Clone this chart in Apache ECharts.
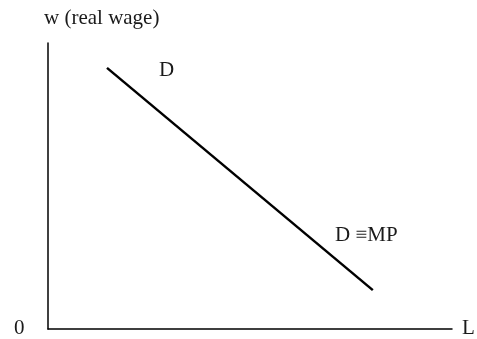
<!DOCTYPE html>
<html><head><meta charset="utf-8">
<script src="https://cdn.jsdelivr.net/npm/echarts@6/dist/echarts.min.js"></script>
<style>html,body{margin:0;padding:0;background:#fff}#c{width:477px;height:339px}</style>
</head><body><div id="c"></div>
<script>
const demandL = [14.6, 80.4];
const demandW = [91.3, 13.6];
const axisNames = { y: 'w (real wage)', x: 'L', origin: '0' };
const curveLabels = ['D', 'D \u2261MP'];

const chart = echarts.init(document.getElementById('c'));
const F = '21px "Liberation Serif"';
const txt = (text, x, y) => ({ type: 'text', x: x, y: y, style: { text: text, fill: '#1a1a1a', font: F, align: 'left', verticalAlign: 'top' } });
chart.setOption({
  animation: false,
  grid: { left: 48, top: 43, right: 25, bottom: 10 },
  xAxis: { type: 'value', min: 0, max: 100, axisLine: { lineStyle: { color: '#000', width: 1.5 } },
    axisTick: { show: false }, axisLabel: { show: false }, splitLine: { show: false } },
  yAxis: { type: 'value', min: 0, max: 100, axisLine: { show: true, lineStyle: { color: '#000', width: 1.5 } },
    axisTick: { show: false }, axisLabel: { show: false }, splitLine: { show: false } },
  graphic: [
    txt(axisNames.y, 44, 8),
    txt(axisNames.origin, 14, 318),
    txt(axisNames.x, 462, 318),
    txt(curveLabels[0], 159, 60),
    txt(curveLabels[1], 335, 225)
  ],
  series: [{ type: 'line', data: demandL.map((x, i) => [x, demandW[i]]), symbol: 'none',
    lineStyle: { color: '#000', width: 2.5 } }]
});
</script></body></html>
